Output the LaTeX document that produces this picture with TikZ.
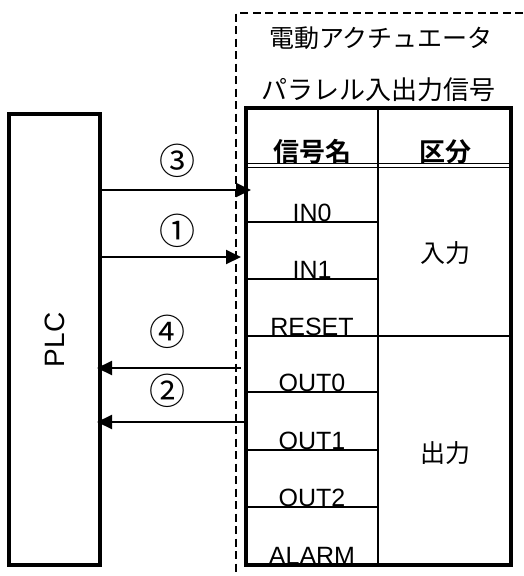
\documentclass[tikz,border=0pt]{standalone}
\usepackage{fontspec}
\setmainfont{Liberation Sans}
\newfontfamily\jp[BoldFont={Noto Sans CJK JP Bold}]{Noto Sans CJK JP}
\usetikzlibrary{arrows.meta}
\begin{document}
\begin{tikzpicture}[x=1pt,y=-1pt,
  thickbox/.style={draw, line width=4pt, inner sep=0pt, outer sep=0pt},
  sig/.style={anchor=base, inner sep=0pt, font=\fontsize{25}{28}\selectfont},
  hdr/.style={anchor=base, inner sep=0pt, font=\jp\bfseries\fontsize{26}{28}\selectfont},
  jptext/.style={inner sep=0pt, font=\jp\fontsize{25}{28}\selectfont},
  num/.style={inner sep=0pt, font=\jp\fontsize{36}{38}\selectfont},
  grid/.style={line width=2pt},
  arr/.style={line width=2pt, -{Triangle[length=15pt,width=14pt]}},
  bound/.style={dashed, line width=1.5pt, dash pattern=on 8pt off 4.5pt}]
\useasboundingbox (0,0) rectangle (523,576);
\fill[white] (0,0) rectangle (523,576);
% dashed actuator boundary
\coordinate (dtl) at (236,13);
\coordinate (dtr) at (523,13);
\coordinate (dbl) at (236,576);
\draw[bound] (dtr) -- (dtl) -- (dbl);
% titles
\node[jptext] (title) at (381,38.5) {電動アクチュエータ};
\node[jptext, font=\jp\fontsize{26}{28}\selectfont] (subtitle) at (378,90) {パラレル入出力信号};
% PLC
\node[thickbox, minimum width=91pt, minimum height=451pt] (plc) at (54.5,339.5) {};
\node[rotate=90, inner sep=0pt, font=\fontsize{28}{30}\selectfont] (plclabel) at (55,340) {PLC};
% table text
\node[hdr] (hname) at (312,161) {信号名};
\node[hdr] (hkind) at (445,161) {区分};
\node[sig] (in0) at (312,221) {IN0};
\node[sig] (in1) at (312,278) {IN1};
\node[sig] (reset) at (312,335) {RESET};
\node[sig] (out0) at (312,391) {OUT0};
\node[sig] (out1) at (312,449) {OUT1};
\node[sig] (out2) at (312,506) {OUT2};
\node[sig] (alarm) at (312,564) {ALARM};
\node[jptext] (kin) at (445,253) {入力};
\node[jptext] (kout) at (445,453) {出力};
% table grid
\draw[line width=1.5pt] (246,163.5) -- (511,163.5);
\draw[line width=1.5pt] (246,167.5) -- (511,167.5);
\draw[grid] (378,108) -- (378,565);
\draw[grid] (246,222) -- (378,222);
\draw[grid] (246,279) -- (378,279);
\draw[grid] (246,336) -- (511,336);
\draw[grid] (246,392) -- (378,392);
\draw[grid] (246,450) -- (378,450);
\draw[grid] (246,507) -- (378,507);
\node[thickbox, anchor=north west, minimum width=265pt, minimum height=457pt] (tbl) at (246,108) {};
% arrows
\coordinate (a3s) at (100,190);
\coordinate (a3e) at (251,190);
\coordinate (a1s) at (102,257);
\coordinate (a1e) at (241,257);
\coordinate (a4s) at (241,368);
\coordinate (a4e) at (97,368);
\coordinate (a2s) at (246,422);
\coordinate (a2e) at (97,422);
\draw[arr] (a3s) -- (a3e);
\draw[arr] (a1s) -- (a1e);
\draw[arr] (a4s) -- (a4e);
\draw[arr] (a2s) -- (a2e);
\node[num] (n3) at (177,161) {③};
\node[num] (n1) at (177,231) {①};
\node[num] (n4) at (167,332) {④};
\node[num] (n2) at (167,391) {②};
\end{tikzpicture}
\end{document}
